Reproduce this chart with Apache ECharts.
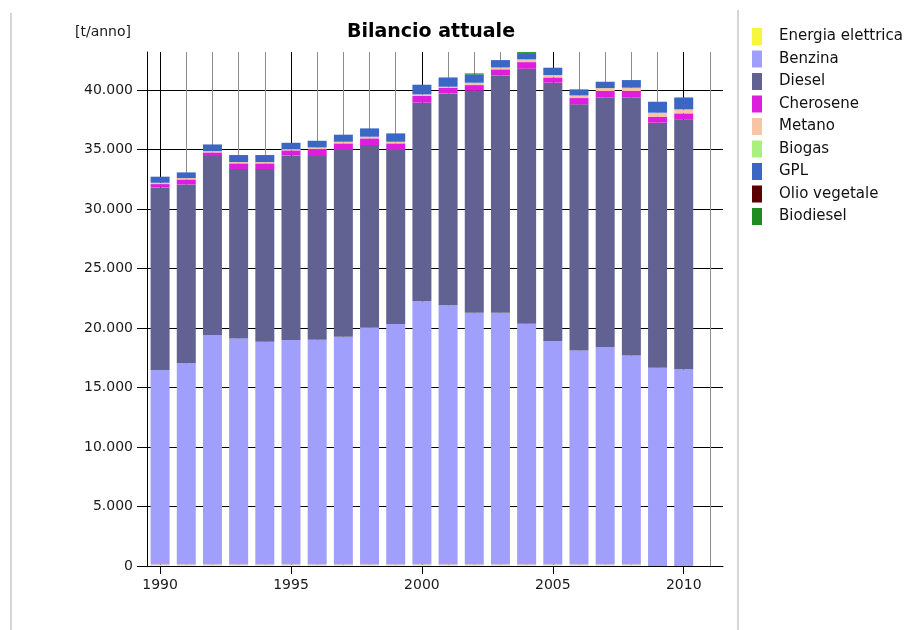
<!DOCTYPE html>
<html>
<head>
<meta charset="utf-8">
<script src="https://cdn.jsdelivr.net/npm/echarts@6/dist/echarts.min.js"></script>
<style>
  html, body { margin: 0; padding: 0; background: #fff; }
  #chart { width: 923px; height: 630px; }
</style>
</head>
<body>
<div id="chart"></div>
<script>
// anni (categorie)
const years = [1990, 1991, 1992, 1993, 1994, 1995, 1996, 1997, 1998, 1999, 2000,
  2001, 2002, 2003, 2004, 2005, 2006, 2007, 2008, 2009, 2010]
const yearLabels = ['1990', '1995', '2000', '2005', '2010']
const yTicks = [0, 5000, 10000, 15000, 20000, 25000, 30000, 35000, 40000]

// valori [t/anno]
const energiaElettrica = [120, 120, 120, 120, 120, 120, 120, 120, 120, 120, 120,
  120, 120, 120, 120, 120, 120, 120, 120, 0, 0]
const benzina = [16350, 16910, 19290, 19010, 18730, 18870, 18900, 19150, 19910, 20220, 22130,
  21800, 21170, 21170, 20240, 18790, 18000, 18280, 17580, 16670, 16530]
const diesel = [15350, 15040, 15040, 14230, 14510, 15520, 15430, 15690, 15350, 14620, 16690,
  17800, 18650, 19940, 21430, 21710, 20680, 20960, 21660, 20590, 21010]
const cherosene = [280, 420, 310, 480, 480, 420, 590, 560, 560, 560, 560,
  480, 480, 510, 560, 440, 530, 560, 560, 500, 500]
const metano = [110, 110, 110, 110, 110, 110, 140, 140, 140, 140, 140,
  80, 200, 160, 230, 200, 220, 250, 280, 340, 340]
const biogas = [0, 0, 0, 0, 0, 0, 0, 0, 0, 0, 0, 0, 0, 0, 0, 0, 0, 0, 0, 0, 0]
const gpl = [510, 480, 560, 590, 590, 530, 560, 590, 700, 700, 810,
  780, 700, 620, 530, 620, 510, 530, 640, 920, 1000]
const olioVegetale = [0, 0, 0, 0, 0, 0, 0, 0, 0, 0, 0, 0, 0, 0, 0, 0, 0, 0, 0, 0, 0]
const biodiesel = [0, 0, 0, 0, 0, 0, 0, 0, 0, 0, 0,
  0, 80, 0, 80, 0, 0, 0, 0, 0, 0]

const seriesDefs = [
  { name: 'Energia elettrica', data: energiaElettrica, color: '#f6f63c' },
  { name: 'Benzina', data: benzina, color: '#a0a0fc' },
  { name: 'Diesel', data: diesel, color: '#626292' },
  { name: 'Cherosene', data: cherosene, color: '#de1ede' },
  { name: 'Metano', data: metano, color: '#f6c4a6' },
  { name: 'Biogas', data: biogas, color: '#aaf07c' },
  { name: 'GPL', data: gpl, color: '#3a66c4' },
  { name: 'Olio vegetale', data: olioVegetale, color: '#5a0000' },
  { name: 'Biodiesel', data: biodiesel, color: '#1e8c1e' },
]

// asse x: posizioni ogni mezzo anno, dai bordi delle barre
const slots = []
for (let v = years[0] - 0.5; v <= years[years.length - 1] + 1.5; v += 0.5) slots.push(String(v))

const fmt = (v) => String(v).replace(/\B(?=(\d{3})+(?!\d))/g, '.')
const font = 'DejaVu Sans'

const chart = echarts.init(document.getElementById('chart'))

chart.setOption({
  animation: false,
  textStyle: { fontFamily: font },
  title: {
    text: 'Bilancio attuale',
    left: 431,
    top: 23,
    textAlign: 'center',
    padding: 0,
    textStyle: { fontSize: 19, fontWeight: 'bold', color: '#000', fontFamily: font },
  },
  legend: {
    orient: 'vertical',
    left: 752,
    top: 28,
    icon: 'rect',
    itemWidth: 10,
    itemHeight: 17,
    itemGap: 5.5,
    padding: 0,
    selectedMode: false,
    textStyle: { fontSize: 15, color: '#111', fontFamily: font, padding: [0, 0, 0, 12] },
    data: seriesDefs.map((s) => s.name),
  },
  graphic: [
    { type: 'line', shape: { x1: 11, y1: 13, x2: 11, y2: 630 }, style: { stroke: '#d6d6d6', lineWidth: 2 } },
    { type: 'line', shape: { x1: 738, y1: 10, x2: 738, y2: 630 }, style: { stroke: '#d6d6d6', lineWidth: 2 } },
  ],
  grid: { left: 147, right: 200, top: 52, bottom: 64 },
  xAxis: {
    type: 'category',
    boundaryGap: false,
    data: slots,
    axisLine: { lineStyle: { color: '#000', width: 1 } },
    axisTick: {
      interval: (i, v) => yearLabels.includes(v),
      length: 8,
      lineStyle: { color: '#000' },
    },
    axisLabel: {
      interval: (i, v) => yearLabels.includes(v),
      margin: 12,
      fontSize: 14,
      color: '#1a1a1a',
      fontFamily: font,
    },
    splitLine: {
      show: true,
      interval: (i, v) => Number.isInteger(Number(v)),
      lineStyle: { color: ['#000', '#8c8c8c', '#8c8c8c', '#8c8c8c', '#8c8c8c'], width: 1 },
    },
  },
  yAxis: {
    type: 'value',
    min: 0,
    max: 43200,
    interval: 5000,
    name: '[t/anno]',
    nameLocation: 'end',
    nameGap: 13,
    nameTextStyle: { fontSize: 14, color: '#1a1a1a', align: 'right', padding: [0, 16, 0, 0], fontFamily: font },
    axisLine: { show: true, lineStyle: { color: '#000', width: 1 } },
    axisTick: { show: true, length: 10, customValues: yTicks, lineStyle: { color: '#000' } },
    axisLabel: {
      customValues: yTicks,
      margin: 14,
      fontSize: 14,
      color: '#1a1a1a',
      fontFamily: font,
      formatter: fmt,
    },
    splitLine: { show: true, lineStyle: { color: '#000', width: 1 } },
  },
  series: seriesDefs.map((s) => ({
    name: s.name,
    type: 'bar',
    stack: 'totale',
    barWidth: 19,
    itemStyle: { color: s.color },
    data: years.map((y, i) => [String(y), s.data[i]]),
  })),
})
</script>
</body>
</html>
